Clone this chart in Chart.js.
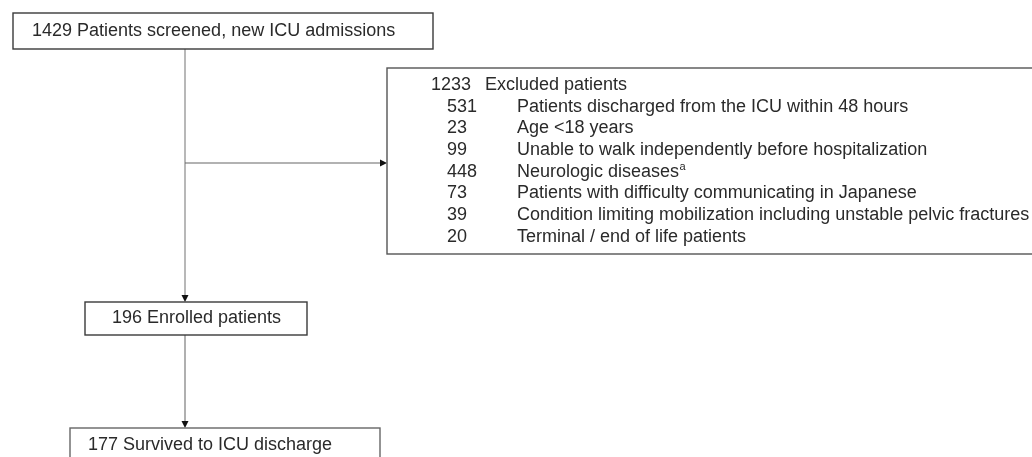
<!DOCTYPE html>
<html>
<head>
<meta charset="utf-8">
<script src="https://cdn.jsdelivr.net/npm/chart.js@4"></script>
<style>
  html, body { margin: 0; padding: 0; background: #fff; }
  #wrap { width: 1032px; height: 457px; position: relative; }
</style>
</head>
<body>
<div id="wrap"><canvas id="flowChart"></canvas></div>
<script>
// flow counts
const screened = 1429;
const excludedTotal = 1233;
const enrolled = 196;
const survived = 177;

// exclusion breakdown
const exclusionCounts = [531, 23, 99, 448, 73, 39, 20];
const exclusionReasons = [
  'Patients discharged from the ICU within 48 hours',
  'Age <18 years',
  'Unable to walk independently before hospitalization',
  'Neurologic diseases',
  'Patients with difficulty communicating in Japanese',
  'Condition limiting mobilization including unstable pelvic fractures',
  'Terminal / end of life patients'
];
const footnoteMarks = ['', '', '', 'a', '', '', ''];

// box labels
const boxLabels = [
  screened + ' Patients screened, new ICU admissions',
  excludedTotal + '  Excluded patients',
  enrolled + ' Enrolled patients',
  survived + ' Survived to ICU discharge'
];

const FONT = '"Liberation Sans", Arial, Helvetica, sans-serif';
const TEXT = '#2a2a2a';

// layout (canvas units, mapped through the scales)
const boxes = {
  screened: { x0: 13, y0: 13, x1: 433, y1: 49 },
  excluded: { x0: 387, y0: 68, x1: 1040, y1: 254 },
  enrolled: { x0: 85, y0: 302, x1: 307, y1: 335 },
  survived: { x0: 70, y0: 428, x1: 380, y1: 470 }
};
const mainX = 185;

const flowPlugin = {
  id: 'flow',
  afterDraw(chart) {
    const ctx = chart.ctx;
    const sx = v => chart.scales.x.getPixelForValue(v);
    const sy = v => chart.scales.y.getPixelForValue(v);

    function box(b, color) {
      ctx.save();
      ctx.strokeStyle = color || '#444';
      ctx.lineWidth = 1.4;
      const x0 = sx(b.x0), y0 = sy(b.y0), x1 = sx(b.x1), y1 = sy(b.y1);
      ctx.strokeRect(x0, y0, x1 - x0, y1 - y0);
      ctx.restore();
    }

    function line(xa, ya, xb, yb, color, w) {
      ctx.save();
      ctx.strokeStyle = color;
      ctx.lineWidth = w;
      ctx.beginPath();
      ctx.moveTo(sx(xa), sy(ya));
      ctx.lineTo(sx(xb), sy(yb));
      ctx.stroke();
      ctx.restore();
    }

    function arrowDown(x, y) {
      ctx.save();
      ctx.fillStyle = '#111';
      ctx.beginPath();
      ctx.moveTo(sx(x), sy(y));
      ctx.lineTo(sx(x) - 3.5, sy(y) - 7);
      ctx.lineTo(sx(x) + 3.5, sy(y) - 7);
      ctx.closePath();
      ctx.fill();
      ctx.restore();
    }

    function arrowRight(x, y) {
      ctx.save();
      ctx.fillStyle = '#111';
      ctx.beginPath();
      ctx.moveTo(sx(x), sy(y));
      ctx.lineTo(sx(x) - 7, sy(y) - 3.5);
      ctx.lineTo(sx(x) - 7, sy(y) + 3.5);
      ctx.closePath();
      ctx.fill();
      ctx.restore();
    }

    function text(str, x, y, size) {
      ctx.save();
      ctx.fillStyle = TEXT;
      ctx.font = (size || 18) + 'px ' + FONT;
      ctx.textBaseline = 'middle';
      ctx.textAlign = 'left';
      ctx.fillText(str, sx(x), sy(y));
      const w = ctx.measureText(str).width;
      ctx.restore();
      return w;
    }

    // connectors
    line(mainX, boxes.screened.y1, mainX, boxes.enrolled.y0 - 6, '#b8b8b8', 2);
    arrowDown(mainX, boxes.enrolled.y0);
    line(mainX, 163, boxes.excluded.x0 - 6, 163, '#666', 1.2);
    arrowRight(boxes.excluded.x0, 163);
    line(mainX, boxes.enrolled.y1, mainX, boxes.survived.y0 - 6, '#b0b0b0', 2);
    arrowDown(mainX, boxes.survived.y0);

    // boxes
    box(boxes.screened, '#3a3a3a');
    box(boxes.excluded, '#555');
    box(boxes.enrolled, '#3a3a3a');
    box(boxes.survived, '#666');

    // texts
    text(boxLabels[0], 32, 31);
    text(String(excludedTotal), 431, 85);
    text('Excluded patients', 485, 85);
    const step = 21.7;
    exclusionCounts.forEach((n, i) => {
      const y = 85 + step * (i + 1);
      text(String(n), 447, y);
      const w = text(exclusionReasons[i], 517, y);
      if (footnoteMarks[i]) text(footnoteMarks[i], 517 + w + 0.5, y - 5, 11);
    });
    text(boxLabels[2], 112, 318);
    text(boxLabels[3], 88, 445);
  }
};

new Chart(document.getElementById('flowChart'), {
  type: 'scatter',
  data: { datasets: [{ data: [], pointRadius: 0 }] },
  options: {
    responsive: true,
    maintainAspectRatio: false,
    animation: false,
    layout: { padding: 0 },
    plugins: { legend: { display: false }, tooltip: { enabled: false } },
    scales: {
      x: { type: 'linear', min: 0, max: 1032, display: false },
      y: { type: 'linear', min: 0, max: 457, reverse: true, display: false }
    }
  },
  plugins: [flowPlugin]
});
</script>
</body>
</html>
